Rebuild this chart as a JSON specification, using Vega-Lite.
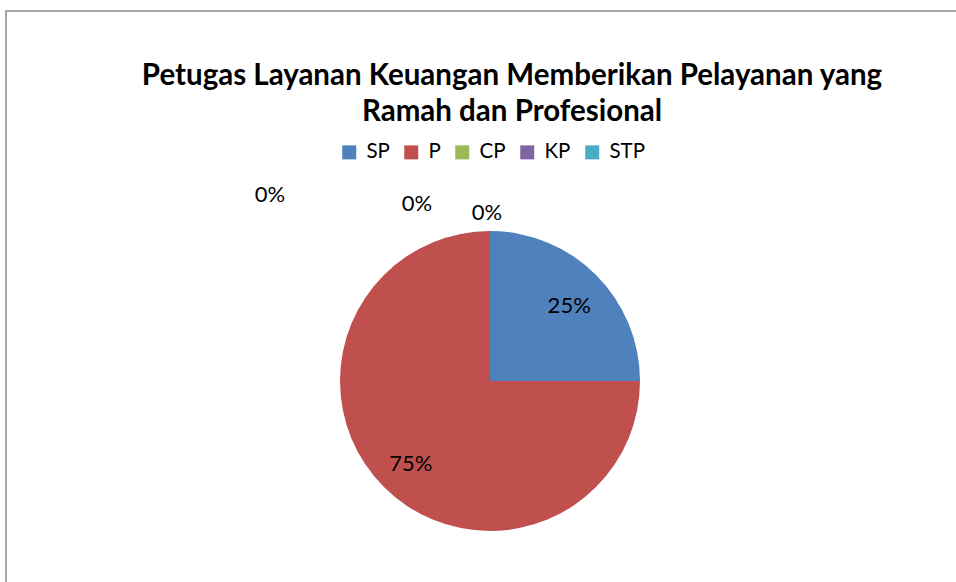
{
  "$schema": "https://vega.github.io/schema/vega-lite/v6.json",
  "autosize": {"type": "none"},
  "width": 968,
  "height": 740,
  "padding": {"left": 6, "top": 11, "right": -18, "bottom": -169},
  "background": "white",
  "view": {"stroke": "#8a8a8a", "strokeWidth": 1.5, "fill": "white"},
  "config": {
    "view": {"stroke": "#8a8a8a", "strokeWidth": 1.5},
    "font": "Lato"
  },
  "title": {
    "text": ["Petugas Layanan Keuangan Memberikan Pelayanan yang", "Ramah dan Profesional"],
    "font": "Lato",
    "fontWeight": "bold",
    "fontSize": 29.5,
    "lineHeight": 36,
    "color": "black",
    "anchor": "middle",
    "frame": "group",
    "orient": "top",
    "dx": 22,
    "baseline": "top",
    "offset": -116
  },
  "data": {
    "values": [
      {"cat": "SP", "value": 0.25, "i": 1},
      {"cat": "P", "value": 0.75, "i": 2},
      {"cat": "CP", "value": 0, "i": 3},
      {"cat": "KP", "value": 0, "i": 4},
      {"cat": "STP", "value": 0, "i": 5}
    ]
  },
  "encoding": {
    "theta": {"field": "value", "type": "quantitative", "stack": true, "scale": {"domain": [0, 1]}},
    "order": {"field": "i", "type": "quantitative"}
  },
  "layer": [
    {
      "mark": {"type": "arc", "outerRadius": 150},
      "encoding": {
        "color": {
          "field": "cat",
          "type": "nominal",
          "sort": ["SP", "P", "CP", "KP", "STP"],
          "scale": {"domain": ["SP", "P", "CP", "KP", "STP"], "range": ["#4F81BD", "#C0504D", "#9BBB59", "#8064A2", "#4BACC6"]},
          "legend": {
            "orient": "none",
            "legendX": 333,
            "legendY": 131,
            "direction": "horizontal",
            "columns": 5,
            "title": null,
            "symbolType": "square",
            "symbolSize": 196,
            "symbolStrokeWidth": 0,
            "symbolOpacity": 1,
            "labelFont": "Lato",
            "labelFontSize": 20.5,
            "labelColor": "black",
            "labelOffset": 7,
            "columnPadding": 11,
            "padding": 0
          }
        }
      }
    },
    {
      "transform": [{"filter": "datum.cat === 'SP' || datum.cat === 'P'"}],
      "mark": {"type": "text", "radius": 112, "font": "Lato", "fontSize": 22, "color": "black", "dy": 4},
      "encoding": {"text": {"field": "value", "type": "quantitative", "format": ".0%"}}
    },
    {
      "transform": [{"filter": "datum.cat === 'STP'"}],
      "mark": {"type": "text", "radius": 169, "font": "Lato", "fontSize": 22, "color": "black", "dx": -3, "dy": 1},
      "encoding": {"text": {"field": "value", "type": "quantitative", "format": ".0%"}}
    },
    {
      "transform": [{"filter": "datum.cat === 'KP'"}],
      "mark": {"type": "text", "radius": 169, "font": "Lato", "fontSize": 22, "color": "black", "dx": -73, "dy": -8},
      "encoding": {"text": {"field": "value", "type": "quantitative", "format": ".0%"}}
    },
    {
      "transform": [{"filter": "datum.cat === 'CP'"}],
      "mark": {"type": "text", "radius": 169, "font": "Lato", "fontSize": 22, "color": "black", "dx": -220, "dy": -17},
      "encoding": {"text": {"field": "value", "type": "quantitative", "format": ".0%"}}
    }
  ]
}
